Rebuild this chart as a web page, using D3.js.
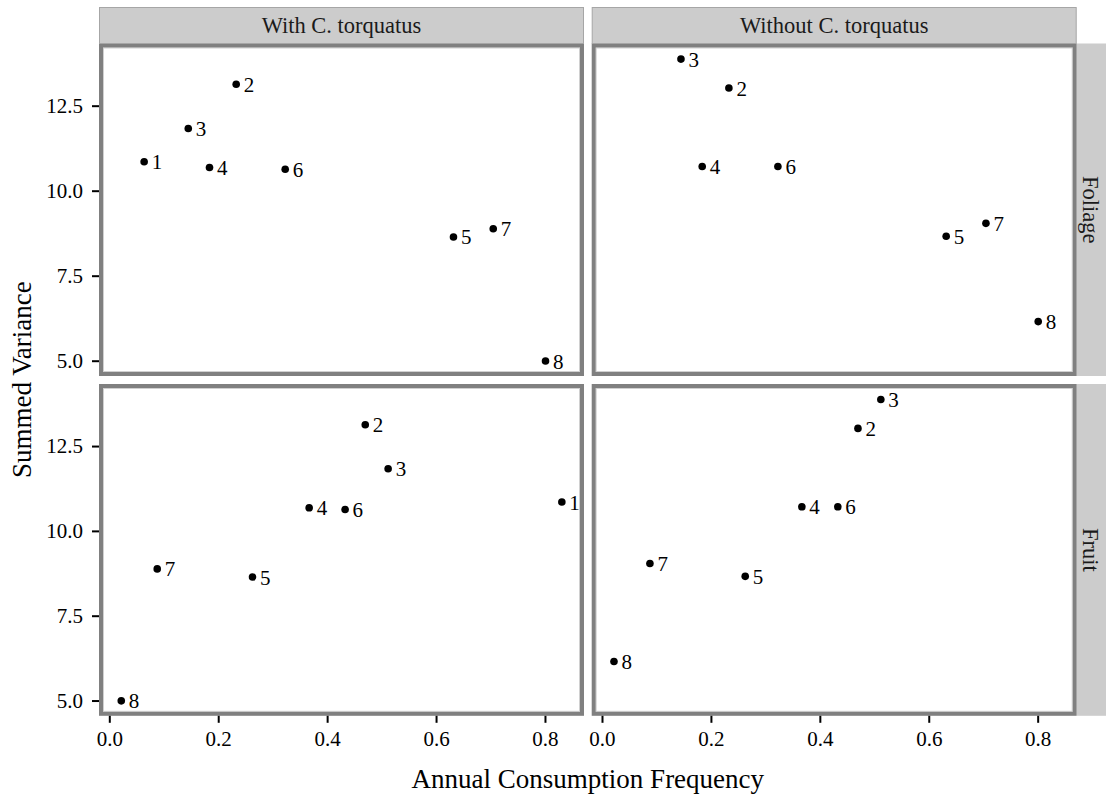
<!DOCTYPE html>
<html>
<head>
<meta charset="utf-8">
<script src="https://cdn.jsdelivr.net/npm/d3@7"></script>
<style>
  body { margin: 0; background: #fff; }
  svg { display: block; font-family: "Liberation Serif", "Times New Roman", serif; }
</style>
</head>
<body>
<svg id="chart" width="1107" height="799"></svg>
<script>
// species labels (point labels)
const species = ['1', '2', '3', '4', '5', '6', '7', '8'];
// annual consumption frequency, by diet type
const foliageFreq = [0.064, 0.233, 0.145, 0.184, 0.632, 0.323, 0.705, 0.801];
const fruitFreq = [0.831, 0.470, 0.512, 0.367, 0.263, 0.433, 0.088, 0.022];
// summed variance with / without C. torquatus (species 1 absent in the second)
const varianceWith = [10.85, 13.13, 11.83, 10.68, 8.64, 10.63, 8.88, 4.99];
const varianceWithout = [null, 13.02, 13.87, 10.71, 8.66, 10.71, 9.04, 6.15];

const columns = ['With C. torquatus', 'Without C. torquatus'];
const rows = ['Foliage', 'Fruit'];
const xTicks = [0, 0.2, 0.4, 0.6, 0.8];
const yTicks = [5, 7.5, 10, 12.5];

const svg = d3.select('#chart');

// panel boxes (centre of the border line)
const colX = [[101, 582], [593.7, 1074.7]];
const rowY = [[45.5, 374], [386, 713.8]];

const freqByRow = [foliageFreq, fruitFreq];
const varByCol = [varianceWith, varianceWithout];

rows.forEach((rowName, r) => {
    columns.forEach((colName, c) => {
        const x = d3.scaleLinear().domain([-0.01524, 0.868]).range(colX[c]);
        const y = d3.scaleLinear().domain([4.609, 14.27]).range([rowY[r][1], rowY[r][0]]);

        const g = svg.append('g');

        g.append('rect')
            .attr('x', colX[c][0]).attr('y', rowY[r][0])
            .attr('width', colX[c][1] - colX[c][0]).attr('height', rowY[r][1] - rowY[r][0])
            .attr('fill', '#fff');

        const pts = species.map((s, i) => ({ s: s, fx: freqByRow[r][i], vy: varByCol[c][i] }))
            .filter(d => d.vy != null);

        g.selectAll('circle').data(pts).enter().append('circle')
            .attr('cx', d => x(d.fx)).attr('cy', d => y(d.vy))
            .attr('r', 3.8).attr('fill', '#000');

        g.selectAll('text.lab').data(pts).enter().append('text')
            .attr('class', 'lab')
            .attr('x', d => x(d.fx) + 7.5).attr('y', d => y(d.vy))
            .attr('dy', '0.36em')
            .attr('font-size', 21)
            .text(d => d.s);

        // light inner edge, then the grey border
        g.append('rect')
            .attr('x', colX[c][0] + 2.5).attr('y', rowY[r][0] + 2.5)
            .attr('width', colX[c][1] - colX[c][0] - 5).attr('height', rowY[r][1] - rowY[r][0] - 5)
            .attr('fill', 'none').attr('stroke', '#d0d0d0').attr('stroke-width', 1);
        g.append('rect')
            .attr('x', colX[c][0]).attr('y', rowY[r][0])
            .attr('width', colX[c][1] - colX[c][0]).attr('height', rowY[r][1] - rowY[r][0])
            .attr('fill', 'none').attr('stroke', '#808080').attr('stroke-width', 4);

        // y axis on the left column only
        if (c === 0) {
            const ya = g.append('g')
                .attr('transform', `translate(${colX[c][0] - 2},0)`)
                .call(d3.axisLeft(y).tickValues(yTicks).tickFormat(d3.format('.1f')).tickSize(7).tickPadding(9));
            ya.select('.domain').remove();
            ya.selectAll('line').attr('stroke', '#000').attr('stroke-width', 2);
            ya.selectAll('text').attr('font-size', 21).attr('fill', '#000')
                .attr('font-family', '"Liberation Serif", serif');
        }
        // x axis on the bottom row only
        if (r === 1) {
            const xa = g.append('g')
                .attr('transform', `translate(0,${rowY[r][1] + 2})`)
                .call(d3.axisBottom(x).tickValues(xTicks).tickFormat(d3.format('.1f')).tickSize(7).tickPadding(8));
            xa.select('.domain').remove();
            xa.selectAll('line').attr('stroke', '#000').attr('stroke-width', 2);
            xa.selectAll('text').attr('font-size', 21).attr('fill', '#000')
                .attr('font-family', '"Liberation Serif", serif');
        }
    });
});

// column strips
columns.forEach((name, c) => {
    svg.append('rect')
        .attr('x', colX[c][0] - 1.5).attr('y', 7.5)
        .attr('width', colX[c][1] - colX[c][0] + 3).attr('height', 36)
        .attr('fill', '#cccccc').attr('stroke', '#a6a6a6').attr('stroke-width', 1);
    svg.append('text')
        .attr('x', (colX[c][0] + colX[c][1]) / 2).attr('y', 25.5)
        .attr('dy', '0.35em').attr('text-anchor', 'middle')
        .attr('font-size', 22.5).attr('fill', '#1a1a1a')
        .text(name);
});

// row strips
rows.forEach((name, r) => {
    svg.append('rect')
        .attr('x', 1077).attr('y', rowY[r][0] - 2)
        .attr('width', 29).attr('height', rowY[r][1] - rowY[r][0] + 4)
        .attr('fill', '#cccccc');
    const cy = (rowY[r][0] + rowY[r][1]) / 2;
    svg.append('text')
        .attr('transform', `translate(1091,${cy}) rotate(90)`)
        .attr('dy', '0.35em').attr('text-anchor', 'middle')
        .attr('font-size', 22.5).attr('fill', '#1a1a1a')
        .text(name);
});

// axis titles
svg.append('text')
    .attr('x', (colX[0][0] + colX[1][1]) / 2).attr('y', 788)
    .attr('text-anchor', 'middle').attr('font-size', 27)
    .text('Annual Consumption Frequency');

svg.append('text')
    .attr('transform', `translate(31,${(rowY[0][0] + rowY[1][1]) / 2}) rotate(-90)`)
    .attr('text-anchor', 'middle').attr('font-size', 27)
    .text('Summed Variance');
</script>
</body>
</html>
